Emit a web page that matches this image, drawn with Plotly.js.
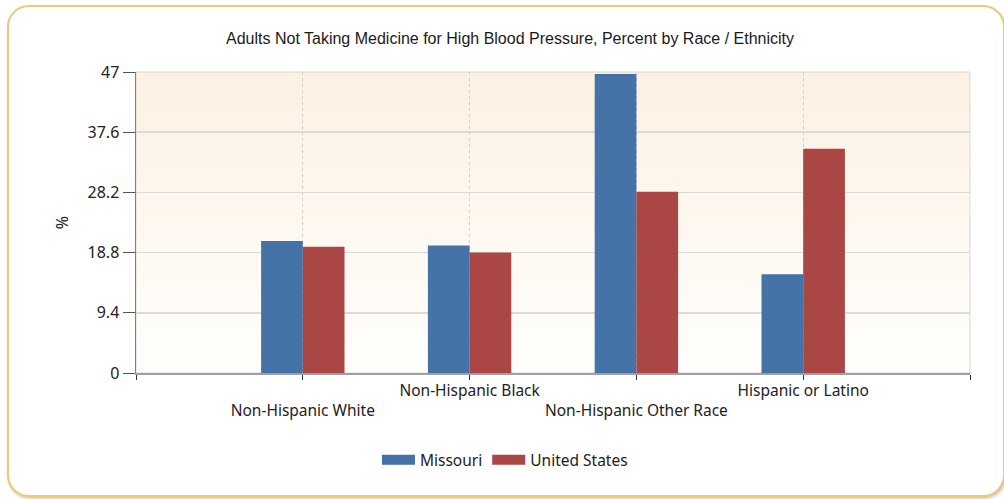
<!DOCTYPE html>
<html>
<head>
<meta charset="utf-8">
<script src="https://cdn.plot.ly/plotly-3.0.1.min.js"></script>
<style>
html,body{margin:0;padding:0;background:#ffffff;}
#frame{position:absolute;left:7px;top:5px;width:994px;height:488px;border:2px solid #e9c97c;border-radius:22px;box-shadow:1px 2px 3px rgba(170,130,60,0.45);background:#ffffff;}
#chart{position:absolute;left:0;top:0;width:1004px;height:499px;}
</style>
</head>
<body>
<div id="frame"></div>
<div id="chart"></div>
<script>
var categories = ["Non-Hispanic White", "Non-Hispanic Black", "Non-Hispanic Other Race", "Hispanic or Latino"];
var categoryPositions = [1, 2, 3, 4];
var missouri = [20.6, 19.9, 46.7, 15.4];
var unitedStates = [19.7, 18.8, 28.3, 35.0];
var yTicks = [0, 9.4, 18.8, 28.2, 37.6, 47];
var seriesNames = ["Missouri", "United States"];
var seriesColors = ["#4572A7", "#AA4643"];

// staggered tick labels (alternate rows like the original)
var tickVals = [0].concat(categoryPositions).concat([5]);
var tickText = [""].concat(categories.map(function (c, i) { return i % 2 === 0 ? "<br>" + c : c; })).concat([""]);

var gradSvg = '<svg xmlns="http://www.w3.org/2000/svg" width="10" height="100" preserveAspectRatio="none">' +
  '<defs><linearGradient id="g" x1="0" y1="0" x2="0" y2="1">' +
  '<stop offset="0" stop-color="#fcf1e2"/><stop offset="1" stop-color="#fffefc"/></linearGradient></defs>' +
  '<rect width="10" height="100" fill="url(#g)"/></svg>';
var gradUri = "data:image/svg+xml;base64," + btoa(gradSvg);

var traces = [
  {type: "bar", x: categoryPositions, y: missouri, name: seriesNames[0], marker: {color: seriesColors[0]}, showlegend: false, hoverinfo: "y"},
  {type: "bar", x: categoryPositions, y: unitedStates, name: seriesNames[1], marker: {color: seriesColors[1]}, showlegend: false, hoverinfo: "y"},
  {type: "scatter", mode: "lines", x: [null], y: [null], name: seriesNames[0], line: {color: seriesColors[0], width: 12}, hoverinfo: "skip"},
  {type: "scatter", mode: "lines", x: [null], y: [null], name: seriesNames[1], line: {color: seriesColors[1], width: 12}, hoverinfo: "skip"}
];

var fontFam = "Noto Sans, DejaVu Sans, sans-serif";

var layout = {
  width: 1004, height: 499,
  margin: {l: 136, r: 34, t: 72, b: 126, pad: 0},
  paper_bgcolor: "rgba(0,0,0,0)",
  plot_bgcolor: "rgba(0,0,0,0)",
  font: {family: fontFam, size: 15.5, color: "#222222"},
  title: {
    text: "Adults Not Taking Medicine for High Blood Pressure, Percent by Race / Ethnicity",
    font: {family: "Liberation Sans, Arial, sans-serif", size: 16, color: "#1a1a1a"},
    x: 0.508, xanchor: "center", y: 0.924, yanchor: "middle", xref: "container", yref: "container"
  },
  barmode: "group",
  bargap: 0.5,
  bargroupgap: 0,
  xaxis: {
    range: [0, 5], tickmode: "array", tickvals: tickVals, ticktext: tickText,
    showgrid: true, gridcolor: "#cfcfcf", griddash: "dot", gridwidth: 1,
    showline: true, linecolor: "#a0a0a0", linewidth: 2,
    ticks: "outside", ticklen: 5, tickcolor: "#333333", tickwidth: 1,
    ticklabelstandoff: -3,
    zeroline: false, fixedrange: true,
    tickfont: {family: fontFam, size: 15.5, color: "#222222"}
  },
  yaxis: {
    range: [0, 47], tickmode: "array", tickvals: yTicks, ticktext: yTicks.map(String),
    showgrid: true, gridcolor: "#dadada", gridwidth: 1.5,
    showline: true, linecolor: "#7f7f7f", linewidth: 1.5,
    ticks: "outside", ticklen: 12, tickcolor: "#555555", tickwidth: 1,
    zeroline: false, fixedrange: true,
    tickfont: {family: fontFam, size: 16, color: "#222222"},
    title: {text: "%", font: {family: fontFam, size: 16, color: "#222222"}, standoff: 15}
  },
  images: [{
    source: gradUri, xref: "paper", yref: "paper", x: 0, y: 1, sizex: 1, sizey: 1,
    sizing: "stretch", xanchor: "left", yanchor: "top", layer: "below"
  }],
  shapes: [{
    type: "rect", xref: "paper", yref: "paper", x0: 0, x1: 1, y0: 0, y1: 1,
    line: {color: "#d6d6d6", width: 1}, fillcolor: "rgba(0,0,0,0)", layer: "below"
  }],
  showlegend: true,
  legend: {
    orientation: "h", x: 0.4424, xanchor: "center", y: -0.29, yanchor: "middle",
    font: {family: fontFam, size: 15.5, color: "#222222"},
    bgcolor: "rgba(0,0,0,0)", itemwidth: 33, tracegroupgap: 0
  }
};

Plotly.newPlot("chart", traces, layout, {displayModeBar: false, staticPlot: true});
</script>
</body>
</html>
